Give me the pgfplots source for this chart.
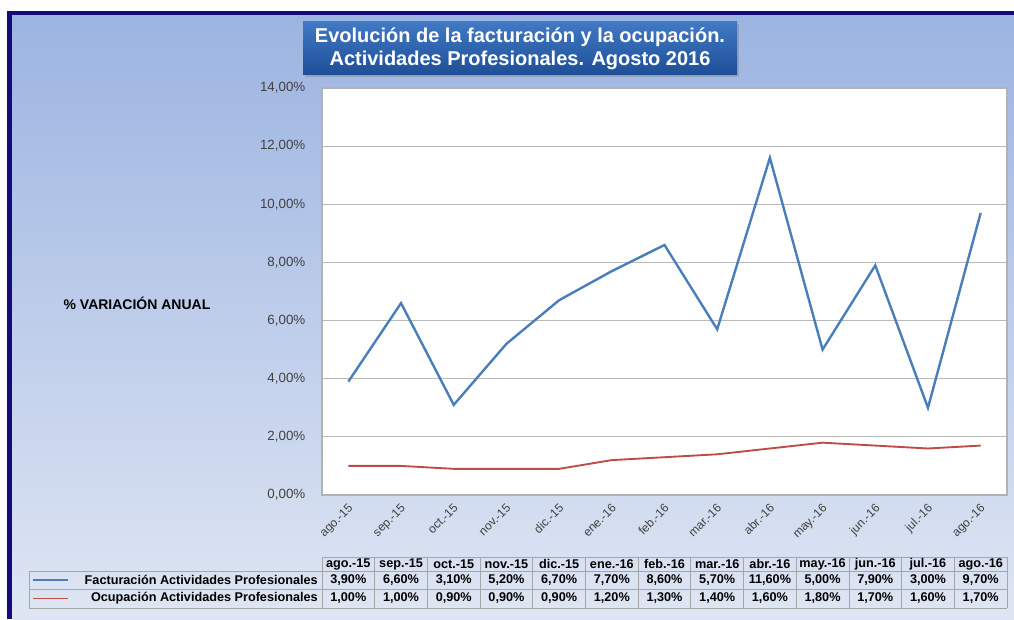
\documentclass[border=0pt]{standalone}
\usepackage{fontspec}
\setmainfont{Liberation Sans}
\usepackage{pgfplots}
\usepackage{pgfplotstable}
\pgfplotsset{compat=1.18}
\usetikzlibrary{shadows}
\definecolor{navy}{HTML}{150A7C}
\definecolor{bgtop}{HTML}{9CB4E1}
\definecolor{bgbot}{HTML}{DFE6F3}
\definecolor{fact}{HTML}{4A7EBB}
\definecolor{ocup}{HTML}{BE4B48}
\definecolor{titletop}{HTML}{4079C4}
\definecolor{titlebot}{HTML}{1E4E98}
\definecolor{ticktxt}{HTML}{404040}
\pgfkeys{/pgf/number format/assume math mode=true}

\pgfplotstableread{
x fact ocup
0 3.9 1.0
1 6.6 1.0
2 3.1 0.9
3 5.2 0.9
4 6.7 0.9
5 7.7 1.2
6 8.6 1.3
7 5.7 1.4
8 11.6 1.6
9 5.0 1.8
10 7.9 1.7
11 3.0 1.6
12 9.7 1.7
}\datatable

\begin{document}
\begin{tikzpicture}
\useasboundingbox (0,0) rectangle (760.5pt,464.25pt);
\fill[white] (0,0) rectangle (760.5pt,464.25pt);
\fill[navy] (5.25pt,0) rectangle (760.5pt,456pt);
\shade[top color=bgtop,bottom color=bgbot] (9pt,0) rectangle (760.5pt,452.25pt);

% title
\node[drop shadow={shadow xshift=1.5pt,shadow yshift=-1.5pt,opacity=0.4},
      top color=titletop,bottom color=titlebot,
      minimum width=325.5pt,minimum height=39.75pt,inner sep=0pt,
      align=center,text=white,font=\bfseries\fontsize{15}{17}\selectfont]
  at (390pt,427.9pt) {Evolución de la facturación y la ocupación.\\Actividades Profesionales. Agosto 2016};

% y label
\node[font=\bfseries\fontsize{10.5}{12}\selectfont,text=black] at (102.75pt,237pt) {\% VARIACIÓN ANUAL};

\begin{axis}[
  at={(241.5pt,93pt)}, anchor=south west,
  scale only axis, width=513.75pt, height=305.25pt,
  xmin=-0.5, xmax=12.5, ymin=0, ymax=14,
  ytick={0,2,...,14},
  xtick={0,...,12},
  xticklabels={ago.-15,sep.-15,oct.-15,nov.-15,dic.-15,ene.-16,feb.-16,mar.-16,abr.-16,may.-16,jun.-16,jul.-16,ago.-16},
  xticklabel style={rotate=45,anchor=north east,font=\fontsize{9}{10}\selectfont,text=ticktxt,inner sep=0.5pt,xshift=-4pt,yshift=-3pt},
  yticklabel={\pgfmathprintnumber[fixed,fixed zerofill,precision=2,use comma]{\tick}\%},
  yticklabel style={font=\fontsize{10}{11}\selectfont,text=ticktxt,xshift=-9pt},
  major tick length=0pt,
  ymajorgrids,
  grid style={draw=gray!55,line width=0.8pt},
  axis line style={draw=gray!60,line width=0.8pt},
  axis background/.style={fill=white},
  clip=false,
]
\addplot[fact,line width=1.8pt] table[x=x,y=fact]{\datatable};
\addplot[ocup,line width=1.4pt] table[x=x,y=ocup]{\datatable};
\end{axis}

% data table
\def\cw{39.52pt}
\def\tf{\bfseries\fontsize{9.5}{10}\selectfont}
\begin{scope}[draw=gray!70,line width=0.6pt]
\draw (241.5pt,46.5pt) -- (755.25pt,46.5pt);
\draw (21.75pt,36pt) -- (755.25pt,36pt);
\draw (21.75pt,22.5pt) -- (755.25pt,22.5pt);
\draw (21.75pt,8.25pt) -- (755.25pt,8.25pt);
\draw (21.75pt,36pt) -- (21.75pt,8.25pt);
\foreach \k in {0,...,13} {\draw ({241.5pt+\k*\cw},46.5pt) -- ({241.5pt+\k*\cw},8.25pt);}
\end{scope}
\foreach \m [count=\i from 0] in {ago.-15,sep.-15,oct.-15,nov.-15,dic.-15,ene.-16,feb.-16,mar.-16,abr.-16,may.-16,jun.-16,jul.-16,ago.-16}
  {\node[font=\tf,inner sep=0pt] at ({241.5pt+\cw*(\i+0.5)},41.25pt) {\m};}
\foreach \v [count=\i from 0] in {3.9,6.6,3.1,5.2,6.7,7.7,8.6,5.7,11.6,5.0,7.9,3.0,9.7}
  {\node[font=\tf,inner sep=0pt] at ({241.5pt+\cw*(\i+0.5)},29.25pt) {\pgfmathprintnumber[fixed,fixed zerofill,precision=2,use comma]{\v}\%};}
\foreach \v [count=\i from 0] in {1.0,1.0,0.9,0.9,0.9,1.2,1.3,1.4,1.6,1.8,1.7,1.6,1.7}
  {\node[font=\tf,inner sep=0pt] at ({241.5pt+\cw*(\i+0.5)},15.4pt) {\pgfmathprintnumber[fixed,fixed zerofill,precision=2,use comma]{\v}\%};}
\draw[fact,line width=1.4pt] (24.75pt,29.25pt) -- (51pt,29.25pt);
\draw[ocup,line width=1.4pt] (24.75pt,15.4pt) -- (51pt,15.4pt);
\node[anchor=east,font=\tf,inner sep=0pt] at (238.5pt,29.25pt) {Facturación Actividades Profesionales};
\node[anchor=east,font=\tf,inner sep=0pt] at (238.5pt,15.4pt) {Ocupación Actividades Profesionales};
\end{tikzpicture}
\end{document}
